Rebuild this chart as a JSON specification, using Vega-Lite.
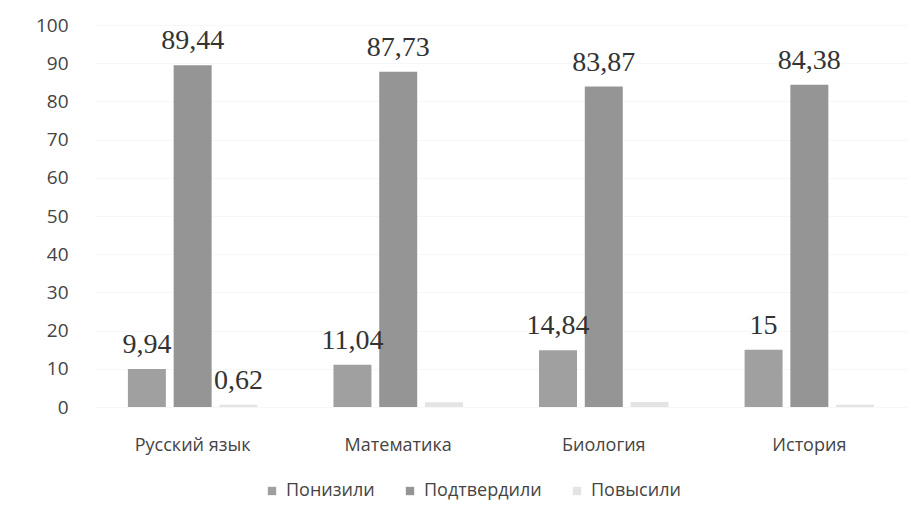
{
  "$schema": "https://vega.github.io/schema/vega-lite/v6.json",
  "width": 812,
  "height": 382,
  "autosize": {"type": "none"},
  "padding": {"left": 95, "top": 25, "right": 4, "bottom": 104},
  "background": "#ffffff",
  "view": {"stroke": null},
  "data": {
    "values": [
      {"subject": "Русский язык", "group": "Понизили", "value": 9.94, "label": "9,94"},
      {"subject": "Русский язык", "group": "Подтвердили", "value": 89.44, "label": "89,44"},
      {"subject": "Русский язык", "group": "Повысили", "value": 0.62, "label": "0,62"},
      {"subject": "Математика", "group": "Понизили", "value": 11.04, "label": "11,04"},
      {"subject": "Математика", "group": "Подтвердили", "value": 87.73, "label": "87,73"},
      {"subject": "Математика", "group": "Повысили", "value": 1.23, "label": ""},
      {"subject": "Биология", "group": "Понизили", "value": 14.84, "label": "14,84"},
      {"subject": "Биология", "group": "Подтвердили", "value": 83.87, "label": "83,87"},
      {"subject": "Биология", "group": "Повысили", "value": 1.29, "label": ""},
      {"subject": "История", "group": "Понизили", "value": 15, "label": "15"},
      {"subject": "История", "group": "Подтвердили", "value": 84.38, "label": "84,38"},
      {"subject": "История", "group": "Повысили", "value": 0.62, "label": ""}
    ]
  },
  "encoding": {
    "x": {
      "field": "subject", "type": "nominal",
      "sort": ["Русский язык", "Математика", "Биология", "История"],
      "scale": {"paddingInner": 0.37, "paddingOuter": 0.16},
      "axis": {"title": null, "labelAngle": 0, "domain": false, "ticks": false, "labelPadding": 29,
               "labelFont": "Open Sans", "labelFontSize": 18, "labelColor": "#444444"}
    },
    "xOffset": {
      "field": "group", "type": "nominal",
      "sort": ["Понизили", "Подтвердили", "Повысили"],
      "scale": {"paddingInner": 0.17, "paddingOuter": 0}
    },
    "y": {
      "field": "value", "type": "quantitative",
      "scale": {"domain": [0, 100], "nice": false},
      "axis": {"title": null, "values": [0,10,20,30,40,50,60,70,80,90,100], "domain": false, "ticks": false,
               "labelPadding": 27, "labelFont": "Open Sans", "labelFontSize": 19, "labelColor": "#444444",
               "grid": true, "gridColor": "#f7f7f7"}
    }
  },
  "layer": [
    {
      "mark": {"type": "bar"},
      "encoding": {
        "color": {
          "field": "group", "type": "nominal",
          "sort": ["Понизили", "Подтвердили", "Повысили"],
          "scale": {"domain": ["Понизили", "Подтвердили", "Повысили"], "range": ["#a0a0a0", "#959595", "#e4e4e4"]},
          "legend": {
            "title": null, "orient": "none", "direction": "horizontal",
            "legendX": 168, "legendY": 457,
            "symbolType": "square", "symbolSize": 70, "symbolStrokeWidth": 0,
            "labelFont": "Open Sans", "labelFontSize": 18, "labelColor": "#444444",
            "columnPadding": 26, "labelOffset": 5
          }
        }
      }
    },
    {
      "mark": {"type": "text", "baseline": "alphabetic", "dy": -16, "font": "Liberation Serif", "fontSize": 28, "color": "#333333"},
      "encoding": {"text": {"field": "label"}}
    }
  ]
}
